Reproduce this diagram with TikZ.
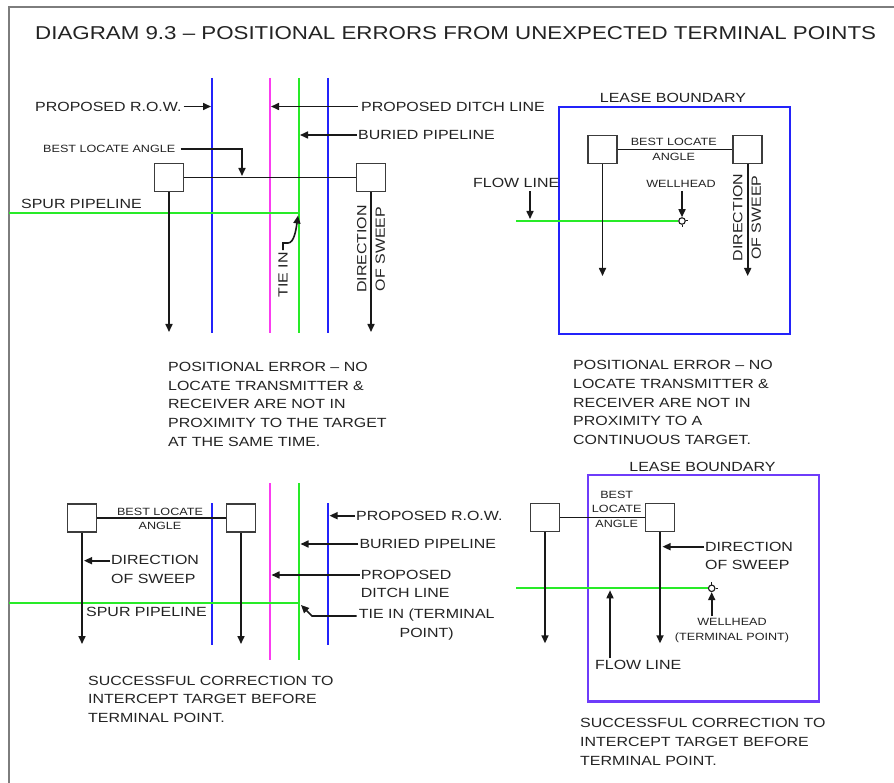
\documentclass[tikz,border=0pt]{standalone}
\usepackage{fontspec}
\setmainfont{Liberation Sans}[FakeStretch=1.2]
\usetikzlibrary{arrows.meta, positioning, calc}
\definecolor{cBlue}{RGB}{35,35,250}
\definecolor{cViolet}{RGB}{110,60,250}
\definecolor{cMagenta}{RGB}{250,60,240}
\definecolor{cGreen}{RGB}{40,235,40}
\definecolor{cText}{RGB}{35,35,35}
\definecolor{cLine}{RGB}{25,25,25}
\definecolor{cFrame}{RGB}{125,125,125}
\tikzset{
  %% text labels
  lbl/.style={inner sep=0pt, text=cText, align=center,
              font=\fontsize{13.3}{18.4}\selectfont},
  lblL/.style={lbl, align=left, anchor=west},
  smlbl/.style={inner sep=0pt, text=cText, align=center,
                font=\fontsize{10.5}{14.5}\selectfont},
  para/.style={lblL, font=\fontsize{13.3}{18.75}\selectfont},
  vlbl/.style={lbl, rotate=90},
  %% locator boxes + wellhead
  locbox/.style={rectangle, draw=cLine!85, fill=white, line width=1.7pt,
                 minimum width=29pt, minimum height=28pt, inner sep=0pt},
  wellhead/.style={circle, draw=cLine, fill=white, line width=1.1pt,
                   minimum size=6.5pt, inner sep=0pt},
  %% lines
  conn/.style={draw=cLine, line width=1.6pt},
  arr/.style={conn, -{Triangle[length=8pt,width=7pt]}},
  tick/.style={draw=cLine, line width=1pt},
  rowline/.style={draw=cBlue, line width=2pt},      % proposed R.O.W.
  ditchline/.style={draw=cMagenta, line width=2pt}, % proposed ditch
  pipeline/.style={draw=cGreen, line width=2pt},    % buried / spur / flow
  lease/.style={draw=cBlue, line width=2.3pt},
  leaseV/.style={draw=cViolet, line width=2.6pt},
  frameline/.style={draw=cFrame, line width=2.8pt},
}

\begin{document}
\begin{tikzpicture}[x=1pt, y=-1pt]

\fill[white] (0,0) rectangle (894,783);
\useasboundingbox (0,0) rectangle (894,783);

%% -- frame + title --
\draw[frameline] (9,783) -- (9,7) -- (894,7);
\node[lblL, font=\fontsize{18.6}{22}\selectfont] (title) at (35,33.5)
  {DIAGRAM 9.3 – POSITIONAL ERRORS FROM UNEXPECTED TERMINAL POINTS};

%% =============================================================
%%  PANEL A  (top left)
%% =============================================================

%% -- R.O.W., ditch, buried pipeline --
\draw[rowline]   (212,78) -- (212,333);
\draw[ditchline] (270,78) -- (270,333);
\draw[pipeline]  (299,78) -- (299,333);
\draw[rowline]   (328,78) -- (328,333);

%% -- spur pipeline, stops at the tie in --
\coordinate (AspurStart) at (9,213);
\coordinate (AspurEnd)   at (299,213);
\draw[pipeline] (AspurStart) -- (AspurEnd);

%% -- locator boxes --
\node[locbox] (AboxL) at (169,177.5) {};
\node[locbox] (AboxR) at (371,177.5) {};
\coordinate (AendL) at (169,332);
\coordinate (AendR) at (371,332);
\draw[conn] (AboxL) -- (AboxR);
\draw[arr] (AboxL) -- (AendL);
\draw[arr] (AboxR) -- (AendR);

%% -- labels --
\node[lblL] (ArowLbl)   at (35,106.5) {PROPOSED R.O.W.};
\node[lblL] (AditchLbl) at (361,106.5) {PROPOSED DITCH LINE};
\node[lblL] (AburLbl)   at (358,135) {BURIED PIPELINE};
\node[smlbl, anchor=west] (AbestLbl) at (43,149) {BEST LOCATE ANGLE};
\node[lblL] (AspurLbl)  at (21,204) {SPUR PIPELINE};
\node[vlbl] (AtieLbl)   at (283,275) {TIE IN};
\node[vlbl] (AdirLbl)   at (371,249) {DIRECTION\\OF SWEEP};

\coordinate (ArowHit)   at (211,106.5);
\coordinate (AditchHit) at (271,106.5);
\coordinate (AburHit)   at (300,135);
\coordinate (AangHit)   at (242,176);
\coordinate (AtieBend)  at (288,243);
\coordinate (AtieTip)   at (298,215.5);

\draw[arr] ([xshift=2pt]ArowLbl.east) -- (ArowHit);
\draw[arr] ([xshift=-3pt]AditchLbl.west) -- (AditchHit);
\draw[arr] ([xshift=-1pt]AburLbl.west) -- (AburHit);
\draw[arr] ([xshift=5pt]AbestLbl.east) -| (AangHit);
\draw[arr] ([yshift=2pt]AtieLbl.east) |- (AtieBend)
  .. controls (294,243) and (296,230) .. (AtieTip);

%% -- caption --
\node[para] (Anote) at (168,404.2) {POSITIONAL ERROR – NO\\
  LOCATE TRANSMITTER \&\\RECEIVER ARE NOT IN\\
  PROXIMITY TO THE TARGET\\AT THE SAME TIME.};

%% =============================================================
%%  PANEL B  (top right)
%% =============================================================

\draw[lease] (559,107) rectangle (790,334);
\node[lbl] (BleaseLbl) at (673,98.3) {LEASE BOUNDARY};

%% -- flow line into the wellhead --
\node[wellhead] (Bwell) at (682,221) {};
\coordinate (BflowStart) at (516,221);
\draw[pipeline] (BflowStart) -- (Bwell.west);
\draw[tick] (Bwell.east) -- ++(2.5,0);
\draw[tick] (Bwell.south) -- ++(0,2.5);

%% -- locator boxes --
\node[locbox] (BboxL) at (602.5,149.5) {};
\node[locbox] (BboxR) at (747.7,149.5) {};
\coordinate (BendL) at (602.5,276);
\coordinate (BendR) at (747.7,276);
\draw[conn] (BboxL) -- (BboxR);
\draw[arr] (BboxL) -- (BendL);
\draw[arr] (BboxR) -- (BendR);

%% -- labels --
\node[smlbl] (BbestLbl) at (673.7,149.5) {BEST LOCATE\\ANGLE};
\node[vlbl]  (BdirLbl)  at (747,217.5) {DIRECTION\\OF SWEEP};
\node[smlbl] (BwellLbl) at (681,184) {WELLHEAD};
\node[lblL]  (BflowLbl) at (473,183.3) {FLOW LINE};
\coordinate (BflowHit) at (530,219);

\draw[arr] ($(BwellLbl.south -| Bwell.north)+(0,3)$) -- (Bwell.north);
\draw[arr] ($(BflowLbl.south -| BflowHit)+(0,3)$) -- (BflowHit);

%% -- caption --
\node[para] (Bnote) at (573,402.5) {POSITIONAL ERROR – NO\\
  LOCATE TRANSMITTER \&\\RECEIVER ARE NOT IN\\
  PROXIMITY TO A\\CONTINUOUS TARGET.};

%% =============================================================
%%  PANEL C  (bottom left)
%% =============================================================

\draw[rowline]   (212,503) -- (212,645);
\draw[ditchline] (270,483) -- (270,660);
\draw[pipeline]  (299,483) -- (299,660);
\draw[rowline]   (328,503) -- (328,645);

\coordinate (CspurStart) at (9,603);
\coordinate (CspurEnd)   at (299,603);
\draw[pipeline] (CspurStart) -- (CspurEnd);

%% -- locator boxes --
\node[locbox] (CboxL) at (82,517.7) {};
\node[locbox] (CboxR) at (241,517.7) {};
\coordinate (CendL) at (82,644);
\coordinate (CendR) at (241,644);
\draw[conn] (CboxL) -- (CboxR);
\draw[arr] (CboxL) -- (CendL);
\draw[arr] (CboxR) -- (CendR);

%% -- labels --
\node[smlbl] (CbestLbl)  at (160,518.9) {BEST LOCATE\\ANGLE};
\node[lblL]  (CdirLbl)   at (111,569.5) {DIRECTION\\OF SWEEP};
\node[lblL]  (CspurLbl)  at (86,611.7) {SPUR PIPELINE};
\node[lblL]  (CrowLbl)   at (356,515.7) {PROPOSED R.O.W.};
\node[lblL]  (CburLbl)   at (359.3,544) {BURIED PIPELINE};
\node[lblL]  (CditchLbl) at (360.7,584.2) {PROPOSED\\DITCH LINE};
\node[lbl]   (CtieLbl)   at (426.7,624.7) {TIE IN (TERMINAL\\POINT)};

\coordinate (CdirHit)   at (84,560.7);
\coordinate (CrowHit)   at (329.5,515.7);
\coordinate (CburHit)   at (300.5,544);
\coordinate (CditchHit) at (271.5,575);
\coordinate (CtieBend)  at (312,616);
\coordinate (CtieTip)   at (301,605);

\draw[arr] ($(CdirLbl.west |- CdirHit)+(-1,0)$) -- (CdirHit);
\draw[arr] ([xshift=-1pt]CrowLbl.west) -- (CrowHit);
\draw[arr] ([xshift=-1pt]CburLbl.west) -- (CburHit);
\draw[arr] ($(CditchLbl.west |- CditchHit)+(-1,0)$) -- (CditchHit);
\draw[arr] ($(CtieLbl.west |- CtieBend)+(-2,0)$) -- (CtieBend) -- (CtieTip);

%% -- caption --
\node[para] (Cnote) at (88,699.2) {SUCCESSFUL CORRECTION TO\\
  INTERCEPT TARGET BEFORE\\TERMINAL POINT.};

%% =============================================================
%%  PANEL D  (bottom right)
%% =============================================================

\draw[leaseV] (588,475) rectangle (819,701.7);
\node[lbl] (DleaseLbl) at (702.5,466.7) {LEASE BOUNDARY};

%% -- flow line into the wellhead --
\node[wellhead] (Dwell) at (711.7,588.3) {};
\coordinate (DflowStart) at (516,588.3);
\draw[pipeline] (DflowStart) -- (Dwell.west);
\draw[tick] (Dwell.east) -- ++(2.5,0);
\draw[tick] (Dwell.north) -- ++(0,-2.5);

%% -- locator boxes --
\node[locbox] (DboxL) at (545,517.5) {};
\node[locbox] (DboxR) at (660,517.5) {};
\coordinate (DendL) at (545,643.3);
\coordinate (DendR) at (660,643.3);
\draw[conn] (DboxL) -- (DboxR);
\draw[arr] (DboxL) -- (DendL);
\draw[arr] (DboxR) -- (DendR);

%% -- labels --
\node[smlbl] (DbestLbl) at (616.7,509) {BEST\\LOCATE\\ANGLE};
\node[lblL]  (DdirLbl)  at (705,555.8) {DIRECTION\\OF SWEEP};
\node[smlbl] (DwellLbl) at (732,630.5) {WELLHEAD\\(TERMINAL POINT)};
\node[lblL]  (DflowLbl) at (595,665) {FLOW LINE};

\coordinate (DdirHit)  at (662.5,546.7);
\coordinate (DflowHit) at (610,590.3);

\draw[arr] ($(DdirLbl.west |- DdirHit)+(-1,0)$) -- (DdirHit);
\draw[arr] ($(DwellLbl.north -| Dwell.south)+(0,-2)$) -- (Dwell.south);
\draw[arr] ($(DflowLbl.north -| DflowHit)+(0,-2)$) -- (DflowHit);

%% -- caption --
\node[para] (Dnote) at (580,741.7) {SUCCESSFUL CORRECTION TO\\
  INTERCEPT TARGET BEFORE\\TERMINAL POINT.};

\end{tikzpicture}
\end{document}
